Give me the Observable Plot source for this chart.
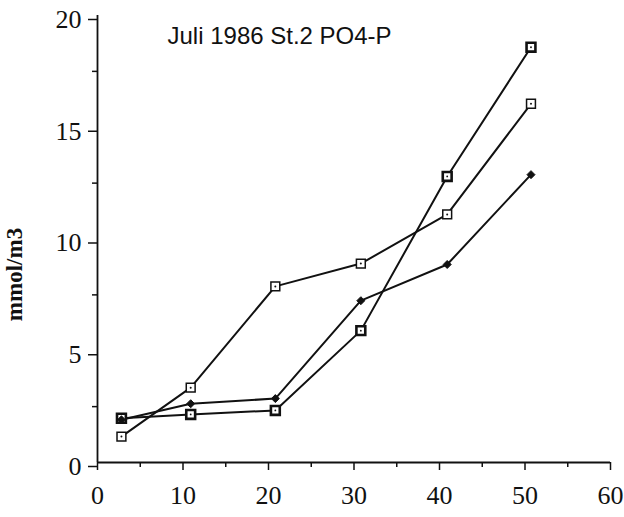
<!DOCTYPE html>
<html>
<head>
<meta charset="utf-8">
<script src="https://cdn.jsdelivr.net/npm/d3@7"></script>
<script src="https://cdn.jsdelivr.net/npm/@observablehq/plot@0.6"></script>
<style>
  html, body { margin: 0; padding: 0; background: #fff; }
  #chart svg { display: block; }
</style>
</head>
<body>
<div id="chart"></div>
<script>
// Depth (x) and PO4-P values (mmol/m3) for three series
const depth   = [2.8, 10.9, 20.8, 30.8, 40.9, 50.7];
const seriesA = [1.16, 3.35, 7.88, 8.9, 11.1, 16.05];   // open squares
const seriesB = [1.91, 2.63, 2.86, 7.24, 8.86, 12.88];  // filled diamonds
const seriesC = [1.98, 2.15, 2.33, 5.9, 12.8, 18.58];   // heavy squares
const xMajorTicks = [0, 10, 20, 30, 40, 50, 60];
const xMinorTicks = [5, 15, 25, 35, 45, 55];
const yMajorTicks = [0, 5, 10, 15, 20];
const yMinorTicks = [2.5, 7.5, 12.5, 17.5];
const titleText = "Juli 1986 St.2 PO4-P";
const yLabel = "mmol/m3";

const toRows = (vals) => depth.map((d, i) => ({x: d, y: vals[i]}));
const A = toRows(seriesA), B = toRows(seriesB), C = toRows(seriesC);

const serif = "'Liberation Serif', 'DejaVu Serif', serif";
const sans = "'Liberation Sans', Arial, sans-serif";

const chart = Plot.plot({
  width: 624,
  height: 517,
  marginLeft: 97,
  marginRight: 14,
  marginTop: 15,
  marginBottom: 55,
  x: {domain: [0, 60]},
  y: {domain: [0, 20]},
  style: {background: "#fff", color: "#111", fontSize: "26px", fontFamily: serif},
  marks: [
    // axes
    Plot.axisX({ticks: xMajorTicks, tickSize: 8, tickPadding: 15, tickFormat: d => d, label: null,
      fontSize: 26, fontFamily: serif, strokeWidth: 1.5}),
    Plot.axisX({ticks: xMinorTicks, tickSize: 5, tickFormat: () => "", label: null, strokeWidth: 1.5}),
    Plot.axisY({ticks: yMajorTicks, tickSize: 9, tickPadding: 7, tickFormat: d => d, label: null,
      fontSize: 26, fontFamily: serif, dy: 4, strokeWidth: 1.5}),
    Plot.axisY({ticks: yMinorTicks, tickSize: 5, tickFormat: () => "", label: null, strokeWidth: 1.5}),
    Plot.ruleX([0], {stroke: "#111", strokeWidth: 1.8}),
    Plot.ruleY([0], {stroke: "#111", strokeWidth: 1.8}),
    // lines
    Plot.line(A, {x: "x", y: "y", stroke: "#111", strokeWidth: 2}),
    Plot.line(B, {x: "x", y: "y", stroke: "#111", strokeWidth: 2}),
    Plot.line(C, {x: "x", y: "y", stroke: "#111", strokeWidth: 2}),
    // markers
    Plot.dot(A, {x: "x", y: "y", symbol: "square", r: 5, fill: "#fff", stroke: "#111", strokeWidth: 1.5}),
    Plot.dot(A, {x: "x", y: "y", r: 1, fill: "#111"}),
    Plot.dot(C, {x: "x", y: "y", symbol: "square", r: 5, fill: "#fff", stroke: "#111", strokeWidth: 2.6}),
    Plot.dot(C, {x: "x", y: "y", r: 0.9, fill: "#111"}),
    Plot.dot(B, {x: "x", y: "y", symbol: "diamond2", r: 3.6, fill: "#111", stroke: "#111", strokeWidth: 1}),
    // title
    Plot.text([titleText], {frameAnchor: "top-left", text: d => d, textAnchor: "start", lineAnchor: "top",
      dx: 70, dy: 11, fontSize: 24, fontFamily: sans, fill: "#111"}),
    // y label
    Plot.text([yLabel], {frameAnchor: "left", text: d => d, rotate: -90, textAnchor: "middle", lineAnchor: "middle",
      dx: -82.5, dy: 35.5, fontSize: 23, fontWeight: "bold", fontFamily: serif, fill: "#111"})
  ]
});
document.getElementById("chart").appendChild(chart);
</script>
</body>
</html>
